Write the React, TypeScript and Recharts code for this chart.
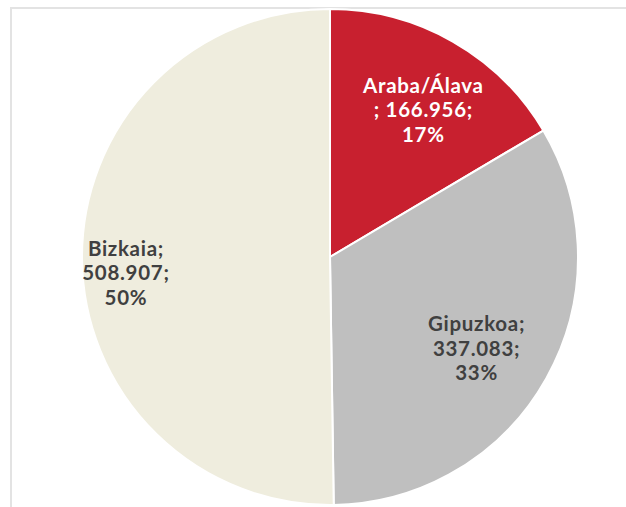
import React from "react";
import { PieChart, Pie, Cell } from "recharts";

const categories = ["Araba/Álava", "Gipuzkoa", "Bizkaia"];
const values = [166956, 337083, 508907];
const percentLabels = ["17%", "33%", "50%"];
const valueLabels = ["166.956", "337.083", "508.907"];

const colors = ["#C8202F", "#BFBFBF", "#EFEDDE"];
const textColors = ["#FFFFFF", "#404040", "#404040"];

const data = categories.map((name, i) => ({ name, value: values[i] }));

const RAD = Math.PI / 180;
// per-slice label placement tweaks: [radius factor, angle shift in degrees]
const labelPlacement: [number, number][] = [
  [0.705, -2.6],
  [0.695, -2.5],
  [0.825, 3.8],
];

const renderLabel = (props: any) => {
  const { cx, cy, midAngle, outerRadius, index } = props;
  const [f, shift] = labelPlacement[index];
  const a = (midAngle + shift) * RAD;
  const r = outerRadius * f;
  const x = cx + r * Math.cos(-a);
  const y = cy + r * Math.sin(-a);
  const lines =
    index === 0
      ? [categories[0], "; " + valueLabels[0] + ";", percentLabels[0]]
      : [categories[index] + ";", valueLabels[index] + ";", percentLabels[index]];
  const lh = 24.5;
  return (
    <text
      x={x}
      y={y}
      textAnchor="middle"
      fill={textColors[index]}
      style={{
        fontFamily: "Lato, 'Open Sans', sans-serif",
        fontWeight: 700,
        fontSize: 20.5,
        letterSpacing: 0.7,
      }}
    >
      {lines.map((l, i) => (
        <tspan key={i} x={x} y={y + (i - 1) * lh} dominantBaseline="central">
          {l}
        </tspan>
      ))}
    </text>
  );
};

export default function App() {
  return (
    <div
      style={{
        position: "fixed",
        left: 0,
        top: 0,
        width: 626,
        height: 507,
        overflow: "hidden",
        background: "#fff",
      }}
    >
      <div
        style={{
          position: "absolute",
          left: 10,
          top: 7,
          width: 700,
          height: 600,
          border: "2px solid #E3E3E3",
          boxSizing: "border-box",
        }}
      />
      <div style={{ position: "absolute", left: 0, top: 0 }}>
        <PieChart width={626} height={507} margin={{ top: 0, right: 0, bottom: 0, left: 0 }}>
          <Pie
            data={data}
            dataKey="value"
            nameKey="name"
            cx={330}
            cy={257}
            outerRadius={248}
            startAngle={90}
            endAngle={-270}
            stroke="#FFFFFF"
            strokeWidth={2}
            isAnimationActive={false}
            label={renderLabel}
            labelLine={false}
          >
            {data.map((d, i) => (
              <Cell key={d.name} fill={colors[i]} />
            ))}
          </Pie>
        </PieChart>
      </div>
    </div>
  );
}
